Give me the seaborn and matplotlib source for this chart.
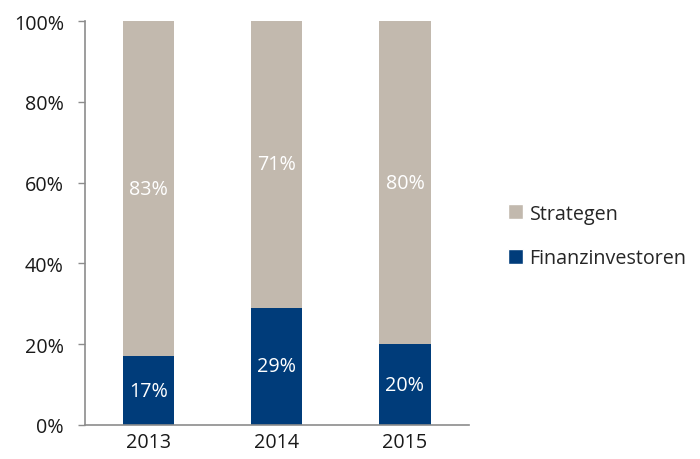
import pandas as pd
import matplotlib.pyplot as plt
import seaborn as sns
from matplotlib.patches import Patch
from matplotlib.ticker import FixedLocator

years = ["2013", "2014", "2015"]
finanzinvestoren = [17, 29, 20]
strategen = [83, 71, 80]
y_ticks = [0, 20, 40, 60, 80, 100]

grey = "#c2b9ae"
blue = "#003c7a"
axis_col = "#8c8c8c"
fs = 14.2

sns.set_theme(style="white")
plt.rcParams["font.family"] = ["Open Sans", "DejaVu Sans"]

df = pd.DataFrame({"Jahr": years, "Finanzinvestoren": finanzinvestoren, "Strategen": strategen})
df["Gesamt"] = df["Finanzinvestoren"] + df["Strategen"]

fig = plt.figure(figsize=(7, 4.6), dpi=100)
ax = fig.add_axes([0.121, 0.074, 0.549, 0.878])

# stacked bars: full height in grey, blue share drawn over it
sns.barplot(data=df, x="Jahr", y="Gesamt", color=grey, width=0.4, saturation=1, linewidth=0, ax=ax)
sns.barplot(data=df, x="Jahr", y="Finanzinvestoren", color=blue, width=0.4, saturation=1, linewidth=0, ax=ax)

for i, row in df.iterrows():
    ax.text(i, row["Finanzinvestoren"] + row["Strategen"] / 2, f"{row['Strategen']}%",
            ha="center", va="center", color="white", fontsize=fs)
    ax.text(i, row["Finanzinvestoren"] / 2, f"{row['Finanzinvestoren']}%",
            ha="center", va="center", color="white", fontsize=fs)

ax.set_xlim(-0.5, len(years) - 0.5)
ax.set_ylim(0, 100)
ax.set_yticks(y_ticks)
ax.set_yticklabels([f"{t}%" for t in y_ticks], fontsize=fs, color="#1a1a1a")
ax.tick_params(axis="x", which="major", length=0, pad=5, labelsize=fs, labelcolor="#1a1a1a")
ax.xaxis.set_minor_locator(FixedLocator([-0.5, 0.5, 1.5, 2.5]))
ax.tick_params(axis="x", which="minor", length=5, width=1, color=axis_col, direction="out")
ax.tick_params(axis="y", length=5, width=1, color=axis_col, direction="out", left=True, pad=10)
ax.set_xlabel("")
ax.set_ylabel("")
sns.despine(ax=ax)
for s in ["left", "bottom"]:
    ax.spines[s].set_color(axis_col)
    ax.spines[s].set_linewidth(1.2)

handles = [Patch(facecolor=grey, label="Strategen"), Patch(facecolor=blue, label="Finanzinvestoren")]
fig.legend(handles=handles, loc="center left", bbox_to_anchor=(0.7, 0.485), frameon=False,
           fontsize=fs, handlelength=0.75, handleheight=0.75, handletextpad=0.35, labelspacing=1.25)

fig.savefig("out.png", dpi=100)
